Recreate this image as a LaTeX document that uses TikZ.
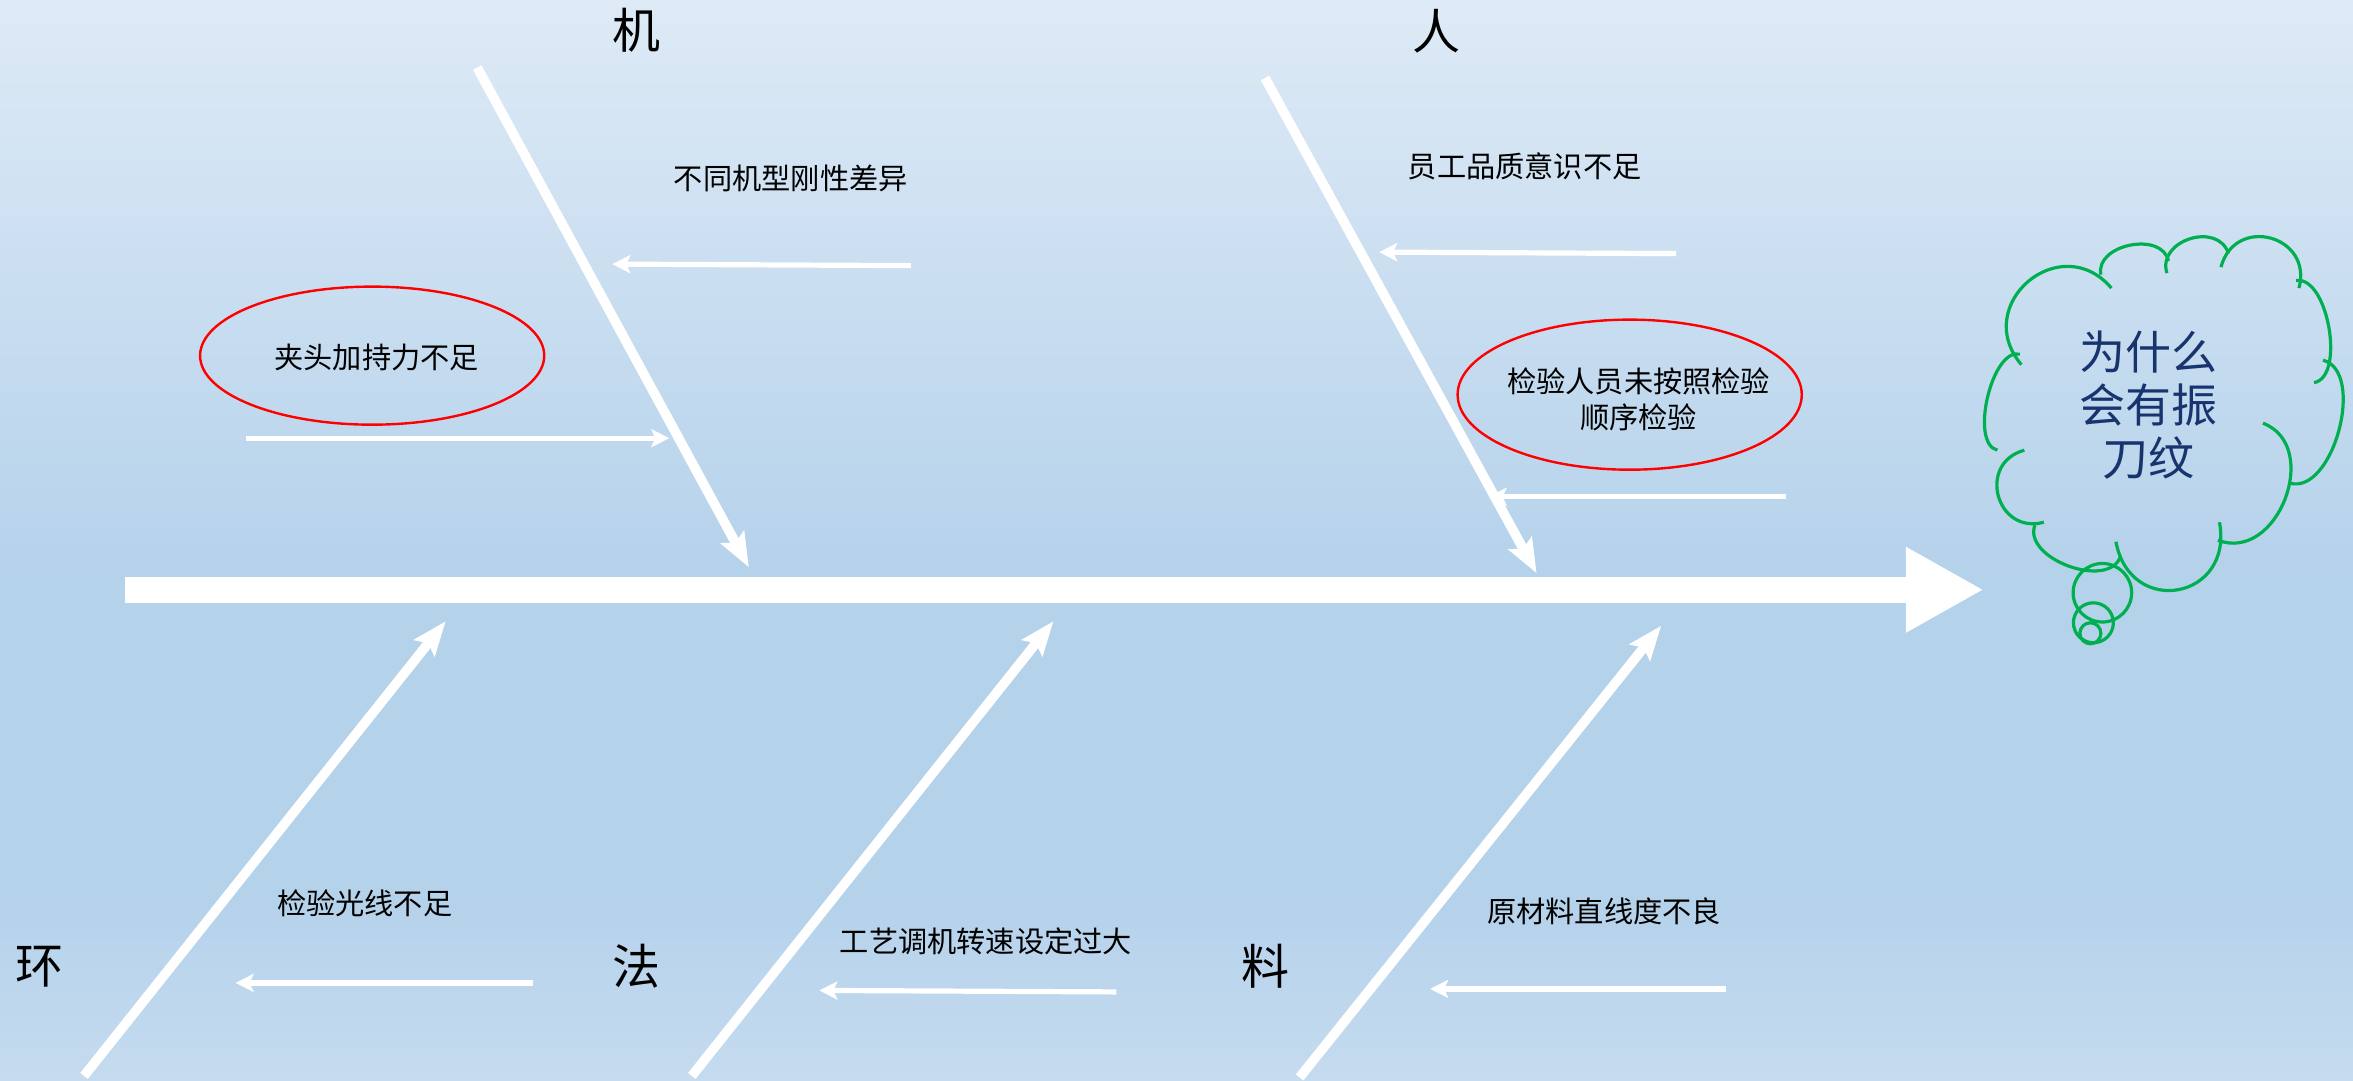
\documentclass[tikz,border=0pt]{standalone}
\usepackage{fontspec}
\setmainfont{Noto Sans CJK SC}
\usetikzlibrary{arrows.meta,shapes.geometric}
\definecolor{bgtop}{RGB}{222,234,246}
\definecolor{bgmid}{RGB}{181,210,235}
\definecolor{bgbot}{RGB}{197,219,239}
\definecolor{cloudgreen}{RGB}{0,176,80}
\definecolor{asknavy}{RGB}{24,52,110}

\begin{document}
\begin{tikzpicture}[x=0.75pt,y=-0.75pt,
  bone/.style={white,line width=4.8pt,-{Stealth[length=17pt,width=13pt,inset=3pt]}},
  twig/.style={white,line width=2.6pt,-{Stealth[length=9pt,width=9pt,inset=2pt]}},
  cause/.style={font=\fontsize{14.6}{18}\selectfont,inner sep=0pt},
  head/.style={font=\fontsize{24}{28}\selectfont,inner sep=0pt},
  ring/.style={ellipse,draw=red,line width=1.2pt,inner sep=0pt,minimum width=172pt},
  puff/.style={cloudgreen,line width=1.6pt}]

\useasboundingbox (0,0) rectangle (1568,720);
\shade[top color=bgtop,bottom color=bgmid] (0,0) rectangle (1568,381);
\fill[bgmid] (0,380) rectangle (1568,601);
\shade[top color=bgmid,bottom color=bgbot] (0,600) rectangle (1568,720);

% spine
\coordinate (tail) at (83,393);
\coordinate (head) at (1322,393);
\draw[white,line width=13pt,-{Triangle[length=39pt,width=40pt]}] (tail) -- (head);

% bones
\foreach \n/\a/\b/\c/\d in {m/318/45/499/378, p/843/52/1024/382,
    e/56/717/297/414, f/461/717/702/414, l/866/718/1107/417}{
  \coordinate (\n0) at (\a,\b);
  \coordinate (\n1) at (\c,\d);
  \draw[bone] (\n0) -- (\n1);
}
\node[head] (mlab) at (424,20) {机};
\node[head] (plab) at (957,21) {人};
\node[head] (elab) at (26,644) {环};
\node[head] (flab) at (424,644) {法};
\node[head] (llab) at (843,644) {料};

% twigs
\foreach \n/\a/\b/\c/\d in {m2/607/177/408/176, m3/164/292/446/292,
    p2/1117/169/919/168, p3/1190/331/992/331, e2/355/655/157/655,
    f2/744/661/546/660, l2/1150/659/953/659}{
  \coordinate (\n a) at (\a,\b);
  \coordinate (\n b) at (\c,\d);
  \draw[twig] (\n a) -- (\n b);
}
\node[cause] (rigid) at (527,119) {不同机型刚性差异};
\node[ring,minimum height=69pt] (clampring) at (248,237) {};
\node[cause] (clamp) at (251,238) {夹头加持力不足};
\node[cause] (aware) at (1016,111) {员工品质意识不足};
\node[ring,minimum height=75pt] (orderring) at (1086,263) {};
\node[cause,align=center] (order) at (1092,266) {检验人员未按照检验\\顺序检验};
\node[cause] (light) at (243,602) {检验光线不足};
\node[cause] (speed) at (657,627) {工艺调机转速设定过大};
\node[cause] (straight) at (1069,607) {原材料直线度不良};

% cloud
\foreach \a/\b/\c/\d/\k in {1347/243/1407/192/1.7, 1400/183/1445/174/1.15,
    1444/182/1485/169/1.36, 1480/178/1532/192/1.73, 1530/187/1542/255/0.8,
    1548/240/1526/322/0.9, 1508/282/1478/360/1.3, 1479/348/1410/361/1.9,
    1413/371/1356/350/1.0, 1362/348/1349/300/1.7, 1331/300/1346/236/0.75}{
  \draw[puff] (\a,\b) to[bend left=90,looseness=\k] (\c,\d);
}
\draw[puff] (1401,395) circle[radius=19.5];
\draw[puff] (1395,415) circle[radius=13.3];
\draw[puff] (1393,422) circle[radius=7];
\node[font=\fontsize{23}{26.3}\selectfont,text=asknavy,align=center] (why) at (1432,270) {为什么\\会有振\\刀纹};

\end{tikzpicture}
\end{document}
